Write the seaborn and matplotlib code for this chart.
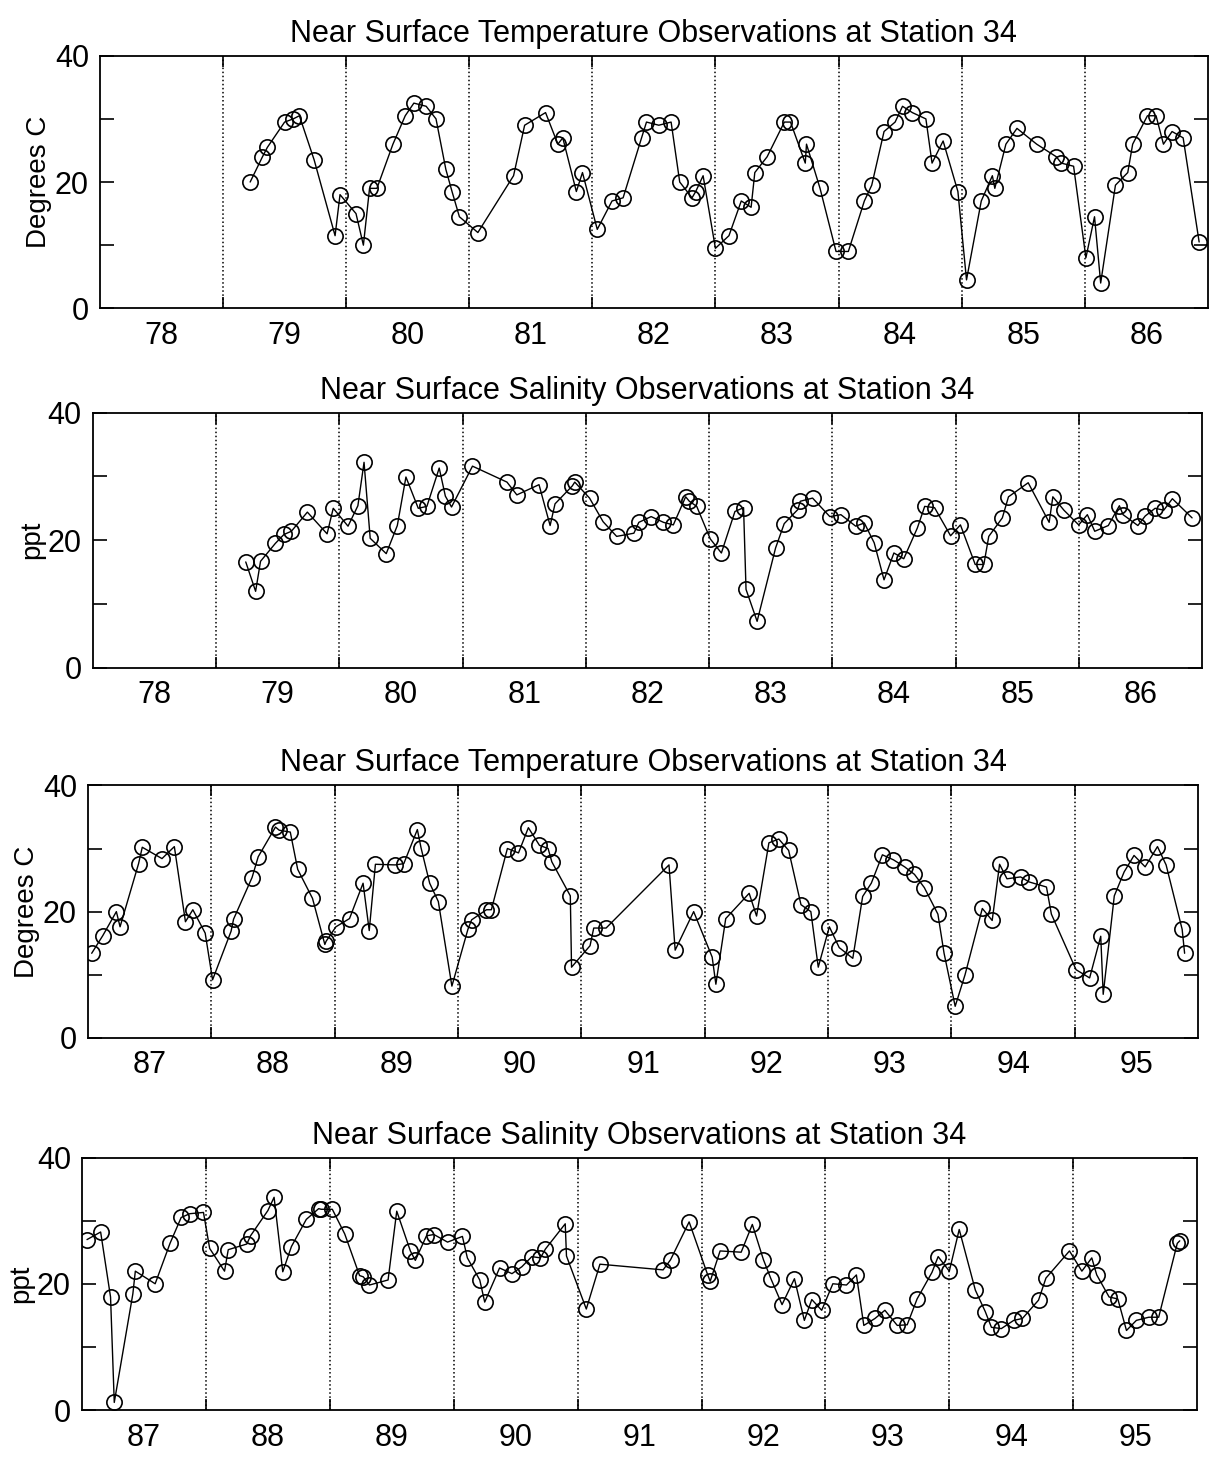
"""
Station 34 near surface temperature / salinity observations, 1978-1995
"""
import numpy as np
import pandas as pd
import matplotlib
matplotlib.use('Agg')
import matplotlib.pyplot as plt
import seaborn as sns

# ─── data (decimal year, value) ─────────────────────────────────────────────
years_a = ['78', '79', '80', '81', '82', '83', '84', '85', '86']
years_b = ['87', '88', '89', '90', '91', '92', '93', '94', '95']

t1_year = [78.72, 78.82, 78.86, 79.00, 79.07, 79.12, 79.24, 79.41, 79.45, 79.58,
           79.64, 79.69, 79.75, 79.88, 79.98, 80.05, 80.15, 80.23, 80.31, 80.36,
           80.42, 80.57, 80.86, 80.95, 81.12, 81.22, 81.26, 81.37, 81.42, 81.54,
           81.66, 81.75, 81.90, 81.94, 82.04, 82.14, 82.21, 82.31, 82.34, 82.40,
           82.50, 82.61, 82.71, 82.79, 82.82, 82.92, 83.06, 83.11, 83.23, 83.24,
           83.35, 83.48, 83.58, 83.71, 83.77, 83.87, 83.96, 84.02, 84.10, 84.21,
           84.26, 84.35, 84.47, 84.54, 84.66, 84.75, 84.77, 84.86, 84.95, 85.11,
           85.27, 85.31, 85.41, 85.51, 85.58, 85.63, 85.75, 85.85, 85.89, 86.01,
           86.08, 86.14, 86.21, 86.30, 86.43]
t1_temp = [20, 24, 25.5, 29.5, 30, 30.5, 23.5, 11.5, 18, 15,
           10, 19, 19, 26, 30.5, 32.5, 32, 30, 22, 18.5,
           14.5, 12, 21, 29, 31, 26, 27, 18.5, 21.5, 12.5,
           17, 17.5, 27, 29.5, 29, 29.5, 20, 17.5, 18.5, 21,
           9.5, 11.5, 17, 16, 21.5, 24, 29.5, 29.5, 23, 26,
           19, 9, 9, 17, 19.5, 28, 29.5, 32, 31, 30,
           23, 26.5, 18.5, 4.5, 17, 21, 19, 26, 28.5, 26,
           24, 23, 22.5, 8, 14.5, 4, 19.5, 21.5, 26, 30.5,
           30.5, 26, 28, 27, 10.5]

s1_year = [78.74, 78.82, 78.86, 78.98, 79.05, 79.11, 79.24, 79.40, 79.45, 79.57,
           79.65, 79.70, 79.75, 79.88, 79.97, 80.04, 80.14, 80.21, 80.31, 80.36,
           80.41, 80.58, 80.86, 80.94, 81.12, 81.21, 81.25, 81.39, 81.41, 81.53,
           81.64, 81.75, 81.89, 81.93, 82.03, 82.13, 82.21, 82.31, 82.34, 82.40,
           82.51, 82.60, 82.71, 82.78, 82.80, 82.89, 83.04, 83.11, 83.22, 83.24,
           83.34, 83.48, 83.57, 83.69, 83.76, 83.84, 83.92, 84.00, 84.08, 84.19,
           84.25, 84.33, 84.46, 84.54, 84.66, 84.73, 84.77, 84.88, 84.93, 85.09,
           85.26, 85.29, 85.38, 85.50, 85.57, 85.63, 85.74, 85.83, 85.86, 85.98,
           86.04, 86.12, 86.19, 86.26, 86.42]
s1_sal = [16.6, 12, 16.7, 19.5, 20.9, 21.4, 24.4, 21, 25, 22.2,
          25.4, 32.2, 20.3, 17.9, 22.3, 29.9, 25, 25.3, 31.3, 26.9,
          25.2, 31.6, 29.1, 27.1, 28.7, 22.3, 25.7, 28.5, 29.1, 26.6,
          22.9, 20.6, 21.1, 22.8, 23.7, 22.8, 22.4, 26.8, 26.1, 25.3,
          20.2, 18, 24.5, 25.1, 12.3, 7.3, 18.8, 22.6, 24.8, 26.1,
          26.6, 23.7, 24, 22.2, 22.7, 19.6, 13.8, 18, 17.1, 21.9,
          25.3, 25.1, 20.7, 22.4, 16.2, 16.2, 20.6, 23.5, 26.8, 29,
          22.8, 26.8, 24.7, 22.4, 24, 21.4, 22.3, 25.4, 24, 22.3,
          23.8, 25, 24.7, 26.5, 23.5]

t2_year = [86.53, 86.62, 86.73, 86.76, 86.91, 86.94, 87.10, 87.20, 87.29, 87.35,
           87.45, 87.51, 87.66, 87.68, 87.83, 87.88, 88.02, 88.05, 88.14, 88.20,
           88.32, 88.42, 88.43, 88.51, 88.62, 88.73, 88.78, 88.83, 88.99, 89.06,
           89.17, 89.20, 89.27, 89.34, 89.45, 89.58, 89.61, 89.73, 89.77, 89.90,
           89.99, 90.07, 90.16, 90.23, 90.26, 90.41, 90.42, 90.57, 90.60, 90.70,
           91.21, 91.26, 91.41, 91.56, 91.59, 91.67, 91.86, 91.92, 92.02, 92.10,
           92.18, 92.28, 92.36, 92.42, 92.51, 92.59, 92.70, 92.78, 92.85, 92.94,
           93.03, 93.12, 93.20, 93.28, 93.39, 93.44, 93.53, 93.61, 93.75, 93.83,
           93.89, 93.95, 94.06, 94.13, 94.27, 94.31, 94.51, 94.62, 94.71, 94.73,
           94.82, 94.90, 94.98, 95.07, 95.17, 95.24, 95.37, 95.39]
t2_temp = [13.4, 16.2, 20, 17.6, 27.6, 30.2, 28.4, 30.3, 18.4, 20.3,
           16.6, 9.2, 16.9, 18.8, 25.4, 28.7, 33.4, 32.9, 32.6, 26.7,
           22.1, 14.8, 15.3, 17.6, 18.9, 24.5, 17, 27.5, 27.4, 27.6,
           33, 30.1, 24.5, 21.6, 8.2, 17.2, 18.7, 20.3, 20.3, 30,
           29.3, 33.3, 30.5, 30, 27.9, 22.5, 11.2, 14.6, 17.4, 17.4,
           27.4, 13.9, 20, 12.8, 8.5, 18.9, 22.9, 19.3, 30.9, 31.5,
           29.7, 21.1, 20, 11.2, 17.6, 14.3, 12.6, 22.4, 24.5, 29,
           28.2, 27.1, 25.9, 23.8, 19.6, 13.4, 5, 10, 20.5, 18.6,
           27.5, 25.2, 25.5, 24.7, 23.9, 19.6, 10.8, 9.5, 16.1, 6.9,
           22.5, 26.3, 28.9, 27.1, 30.3, 27.4, 17.2, 13.4]

s2_year = [86.54, 86.65, 86.73, 86.76, 86.91, 86.93, 87.09, 87.21, 87.30, 87.37,
           87.48, 87.53, 87.65, 87.68, 87.83, 87.86, 88.00, 88.05, 88.12, 88.19,
           88.31, 88.41, 88.43, 88.52, 88.62, 88.74, 88.77, 88.82, 88.97, 89.04,
           89.15, 89.19, 89.28, 89.34, 89.45, 89.57, 89.61, 89.71, 89.75, 89.87,
           89.97, 90.05, 90.13, 90.20, 90.24, 90.40, 90.41, 90.57, 90.68, 91.19,
           91.25, 91.40, 91.55, 91.57, 91.65, 91.82, 91.91, 92.00, 92.06, 92.15,
           92.25, 92.33, 92.39, 92.47, 92.56, 92.67, 92.75, 92.81, 92.90, 92.98,
           93.08, 93.16, 93.24, 93.36, 93.41, 93.50, 93.58, 93.71, 93.79, 93.84,
           93.92, 94.02, 94.09, 94.22, 94.28, 94.47, 94.57, 94.65, 94.69, 94.79,
           94.86, 94.93, 95.01, 95.11, 95.19, 95.34, 95.36]
s2_sal = [27, 28.2, 17.9, 1.2, 18.4, 22, 20, 26.4, 30.5, 31.1,
          31.3, 25.6, 22, 25.4, 26.3, 27.6, 31.6, 33.7, 21.9, 25.9,
          30.2, 31.9, 31.8, 31.8, 27.9, 21.3, 21.1, 19.8, 20.6, 31.5,
          25.2, 23.7, 27.6, 27.8, 26.6, 27.5, 24.1, 20.6, 17.1, 22.5,
          21.6, 22.7, 24.3, 24.1, 25.5, 29.5, 24.4, 16, 23.1, 22.2,
          23.8, 29.8, 21.4, 20.4, 25.2, 25, 29.4, 23.8, 20.8, 16.7,
          20.8, 14.2, 17.5, 15.8, 20, 19.8, 21.4, 13.4, 14.5, 15.8,
          13.4, 13.5, 17.6, 21.8, 24.3, 22, 28.6, 19, 15.6, 13.1,
          12.9, 14.2, 14.5, 17.4, 20.9, 25.2, 22, 24.1, 21.4, 17.9,
          17.6, 12.6, 14.2, 14.7, 14.7, 26.4, 26.8]

title_temp = 'Near Surface Temperature Observations at Station 34'
title_sal = 'Near Surface Salinity Observations at Station 34'

# ─── style ──────────────────────────────────────────────────────────────────
sns.set_style('ticks')
plt.rcParams['font.family'] = ['Liberation Sans', 'DejaVu Sans']
plt.rcParams['axes.linewidth'] = 1.3
for k in ['text.color', 'axes.labelcolor', 'xtick.color', 'ytick.color', 'axes.edgecolor']:
    plt.rcParams[k] = 'black'

fig = plt.figure(figsize=(12.12, 14.68), dpi=100)

panels = [
    (t1_year, t1_temp, title_temp, 'Degrees C', years_a, [0.0825, 0.790, 0.914, 0.172]),
    (s1_year, s1_sal, title_sal, 'ppt', years_a, [0.0767, 0.545, 0.915, 0.174]),
    (t2_year, t2_temp, title_temp, 'Degrees C', years_b, [0.0726, 0.293, 0.916, 0.172]),
    (s2_year, s2_sal, title_sal, 'ppt', years_b, [0.0677, 0.0395, 0.920, 0.172]),
]

for x, y, title, ylab, labels, rect in panels:
    ax = fig.add_axes(rect)
    df = pd.DataFrame({'year': x, 'value': y})
    sns.lineplot(data=df, x='year', y='value', ax=ax, estimator=None,
                 color='black', linewidth=1.0, marker='o', markersize=11,
                 markerfacecolor='none', markeredgecolor='black', markeredgewidth=1.2)

    centers = np.array([int(l) for l in labels], dtype=float)
    bounds = centers[:-1] + 0.5
    for b in bounds:
        ax.axvline(b, color='black', linestyle=':', linewidth=1.1)

    ax.set_xlim(centers[0] - 0.5, centers[-1] + 0.5)
    ax.set_ylim(0, 40)

    # year boundaries carry the ticks, year centres carry the labels
    ax.set_xticks(bounds, labels=[''] * len(bounds))
    ax.set_xticks(centers, labels=labels, minor=True)
    ax.tick_params(axis='x', which='major', direction='in', length=8, width=1.2,
                   top=True, bottom=True)
    ax.tick_params(axis='x', which='minor', length=0, pad=9, labelsize=22)

    ax.set_yticks([0, 10, 20, 30, 40], labels=['0', '', '20', '', '40'])
    ax.tick_params(axis='y', direction='in', length=10, width=1.2, left=True,
                   right=True, labelsize=22, pad=8)

    ax.set_xlabel('')
    ax.set_ylabel(ylab, fontsize=20, labelpad=2)
    ax.set_title(title, fontsize=22, pad=10)
    for s in ax.spines.values():
        s.set_visible(True)
        s.set_color('black')

plt.savefig('out.png', dpi=100, facecolor='white')
plt.close()
